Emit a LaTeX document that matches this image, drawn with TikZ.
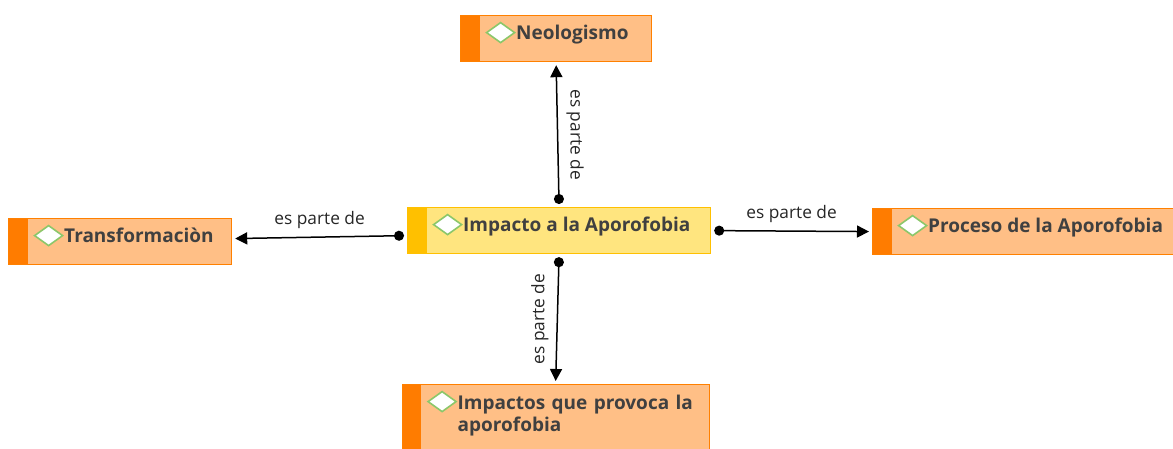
\documentclass[tikz,border=0pt]{standalone}
\usepackage{fontspec}
\setmainfont{Open Sans}
\usetikzlibrary{arrows.meta}
\definecolor{boxfill}{HTML}{FFBF86}
\definecolor{boxline}{HTML}{FF8000}
\definecolor{boxstrip}{HTML}{FF7C00}
\definecolor{mainfill}{HTML}{FFE57F}
\definecolor{mainline}{HTML}{FFC000}
\definecolor{gemline}{HTML}{8CC76A}
\definecolor{txtgray}{HTML}{404040}
\tikzset{
  concept/.style={draw=boxline, fill=boxfill, line width=1.2pt, inner sep=0pt,
    minimum height=46pt, anchor=north west,
    path picture={
      \fill[#1] (path picture bounding box.south west) rectangle ([xshift=19pt]path picture bounding box.north west);
      \draw[gemline, fill=white, line width=1.6pt] ([shift={(26pt,-17pt)}]path picture bounding box.north west)
        -- ++(14pt,10pt) -- ++(14pt,-10pt) -- ++(-14pt,-10pt) -- cycle;
    }},
  concept/.default=boxstrip,
  ctext/.style={anchor=base west, inner sep=0pt, text=txtgray,
    font=\fontsize{19}{22}\selectfont\bfseries},
  link/.style={line width=1.5pt, {Circle[length=10pt]}-{Triangle[length=12pt,width=12pt]},
    shorten <=3pt, shorten >=3pt},
  lbl/.style={midway, inner sep=8pt, text=black!85, font=\fontsize{17.3}{20}\selectfont}
}
\begin{document}
\begin{tikzpicture}[x=1pt, y=-1pt]
  \useasboundingbox (0,0) rectangle (1173,449);
  \clip (0,0) rectangle (1173,449);

  \node[concept=mainline, draw=mainline, fill=mainfill, minimum width=303pt] (cen) at (407,207) {};
  \node[concept, minimum width=191pt] (neo) at (460,15) {};
  \node[concept, minimum width=223pt] (trans) at (8,218) {};
  \node[concept, minimum width=310pt] (proc) at (872,208) {};
  \node[concept, minimum width=307pt, minimum height=80pt] (imp) at (401.5,384) {};

  \node[ctext] (centxt) at ([shift={(56pt,-25pt)}]cen.north west) {Impacto a la Aporofobia};
  \node[ctext] (neotxt) at ([shift={(56pt,-25pt)}]neo.north west) {Neologismo};
  \node[ctext] (transtxt) at ([shift={(56pt,-25pt)}]trans.north west) {Transformaciòn};
  \node[ctext] (proctxt) at ([shift={(56pt,-25pt)}]proc.north west) {Proceso de la Aporofobia};
  \node[ctext, text width=248pt, align=left] (imptxt) at ([shift={(56pt,-25pt)}]imp.north west) {Impactos que provoca la\\aporofobia};

  \draw[link] (cen.north) -- node[lbl, rotate=-90, anchor=south] {es parte de} (neo.south);
  \draw[link] ([yshift=-5pt]cen.west) -- node[lbl, anchor=south] {es parte de} ([yshift=3pt]trans.east);
  \draw[link] (cen.east) -- node[lbl, anchor=south] {es parte de} (proc.west);
  \draw[link] (cen.south) -- node[lbl, rotate=90, anchor=south] {es parte de} (imp.north);
\end{tikzpicture}
\end{document}
